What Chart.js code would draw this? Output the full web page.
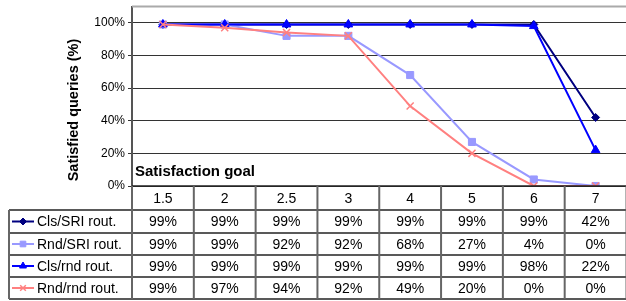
<!DOCTYPE html>
<html>
<head>
<meta charset="utf-8">
<script src="https://cdn.jsdelivr.net/npm/chart.js@4/dist/chart.umd.min.js"></script>
<style>
  html, body { margin: 0; padding: 0; background: #fff; overflow: hidden; }
  #wrap { width: 626px; height: 301px; overflow: hidden; }
</style>
</head>
<body>
<div id="wrap"><canvas id="myLineChart" width="633" height="301"></canvas></div>
<script>
// data
var goals = ['1.5', '2', '2.5', '3', '4', '5', '6', '7'];
var seriesNames = ['Cls/SRI rout.', 'Rnd/SRI rout.', 'Cls/rnd rout.', 'Rnd/rnd rout.'];
var clsSri = [99, 99, 99, 99, 99, 99, 99, 42];
var rndSri = [99, 99, 92, 92, 68, 27, 4, 0];
var clsRnd = [99, 99, 99, 99, 99, 99, 98, 22];
var rndRnd = [99, 97, 94, 92, 49, 20, 0, 0];
var yTicks = [0, 20, 40, 60, 80, 100];

var colors = ['#000080', '#9999ff', '#0000ff', '#ff8080'];
var marks = ['rectRot', 'rect', 'triangle', 'crossRot'];
var sizes = [4, 5, 5, 5];
var values = [clsSri, rndSri, clsRnd, rndRnd];

var datasets = values.map(function(v, i) {
  return {
    label: seriesNames[i],
    data: v,
    borderColor: colors[i],
    backgroundColor: colors[i],
    borderWidth: 2,
    pointStyle: marks[i],
    pointRadius: sizes[i],
    pointBorderWidth: i === 3 ? 1.5 : 1,
    pointBackgroundColor: colors[i],
    pointBorderColor: colors[i],
    tension: 0,
    order: 3 - i
  };
});

var FONT = 'Arial, "Liberation Sans", sans-serif';

// data table under the plot + titles
var tablePlugin = {
  id: 'dataTable',
  afterDraw: function(chart) {
    var ctx = chart.ctx;
    var x = chart.scales.x;
    var area = chart.chartArea;
    var step = x.getPixelForValue(1) - x.getPixelForValue(0);
    var top = area.bottom;
    var rows = [top, 210, 233, 255, 277, 299];
    var right = x.getPixelForValue(goals.length - 1) + step / 2;

    ctx.save();
    // plot area top border
    ctx.strokeStyle = '#aaaaaa';
    ctx.lineWidth = 2;
    ctx.beginPath();
    ctx.moveTo(area.left, area.top);
    ctx.lineTo(right, area.top);
    ctx.stroke();

    // y title
    ctx.fillStyle = '#000';
    ctx.font = 'bold 14.5px ' + FONT;
    ctx.textAlign = 'center';
    ctx.textBaseline = 'middle';
    ctx.translate(74, 110);
    ctx.rotate(-Math.PI / 2);
    ctx.fillText('Satisfied queries (%)', 0, 0);
    ctx.setTransform(1, 0, 0, 1, 0, 0);

    // x title inside plot
    ctx.font = 'bold 15px ' + FONT;
    ctx.textAlign = 'left';
    ctx.textBaseline = 'alphabetic';
    ctx.fillText('Satisfaction goal', 135, 176);

    // horizontal rules
    ctx.strokeStyle = '#222';
    ctx.lineWidth = 1.5;
    for (var r = 0; r < rows.length; r++) {
      ctx.beginPath();
      ctx.moveTo(r === 0 ? area.left : 9, rows[r]);
      ctx.lineTo(right, rows[r]);
      ctx.stroke();
    }
    // vertical rules
    ctx.strokeStyle = '#666';
    ctx.lineWidth = 2;
    for (var c = 0; c <= goals.length; c++) {
      var cx = x.getPixelForValue(0) - step / 2 + c * step;
      ctx.beginPath();
      ctx.moveTo(cx, top);
      ctx.lineTo(cx, rows[rows.length - 1]);
      ctx.stroke();
    }
    ctx.beginPath();
    ctx.moveTo(9, rows[1]);
    ctx.lineTo(9, rows[rows.length - 1]);
    ctx.stroke();

    // header + cells
    ctx.fillStyle = '#000';
    ctx.font = '14px ' + FONT;
    ctx.textAlign = 'center';
    ctx.textBaseline = 'middle';
    goals.forEach(function(g, i) {
      ctx.fillText(g, x.getPixelForValue(i), (rows[0] + rows[1]) / 2 + 1);
    });
    values.forEach(function(v, s) {
      var cy = (rows[s + 1] + rows[s + 2]) / 2 + 1;
      v.forEach(function(val, i) {
        ctx.fillStyle = '#000';
        ctx.textAlign = 'center';
        ctx.fillText(val + '%', x.getPixelForValue(i), cy);
      });
      // legend key
      ctx.strokeStyle = colors[s];
      ctx.fillStyle = colors[s];
      ctx.lineWidth = 2;
      ctx.beginPath();
      ctx.moveTo(12, cy - 1);
      ctx.lineTo(34, cy - 1);
      ctx.stroke();
      ctx.lineWidth = s === 3 ? 1.5 : 1;
      Chart.helpers.drawPoint(ctx, {
        pointStyle: marks[s], radius: s === 0 ? 3.5 : 4, rotation: 0, borderWidth: ctx.lineWidth
      }, 23, cy - 1);
      ctx.fillStyle = '#000';
      ctx.textAlign = 'left';
      ctx.fillText(seriesNames[s], 37, cy);
    });
    ctx.restore();
  }
};

var ctx = document.getElementById('myLineChart').getContext('2d');
var chart = new Chart(ctx, {
  type: 'line',
  data: { labels: goals, datasets: datasets },
  options: {
    responsive: false,
    animation: false,
    layout: { padding: { top: 4, left: 0, right: 0, bottom: 0 } },
    plugins: { legend: { display: false }, tooltip: { enabled: false } },
    scales: {
      x: {
        offset: true,
        grid: { display: false, drawTicks: false },
        border: { display: false },
        ticks: { display: false },
        afterFit: function(s) { s.height = 115; s.paddingLeft = 0; s.paddingRight = 0; }
      },
      y: {
        min: 0,
        max: 110,
        afterBuildTicks: function(s) {
          s.ticks = yTicks.map(function(v) { return { value: v }; });
        },
        grid: { color: '#333', lineWidth: 1, tickLength: 4, tickColor: '#333' },
        border: { color: '#555', width: 2 },
        ticks: {
          padding: 3,
          color: '#000',
          font: { family: FONT, size: 12 },
          callback: function(v) { return v + '%'; }
        },
        afterFit: function(s) { s.width = 132; s.paddingTop = 0; s.paddingBottom = 0; }
      }
    }
  },
  plugins: [tablePlugin]
});
</script>
</body>
</html>
